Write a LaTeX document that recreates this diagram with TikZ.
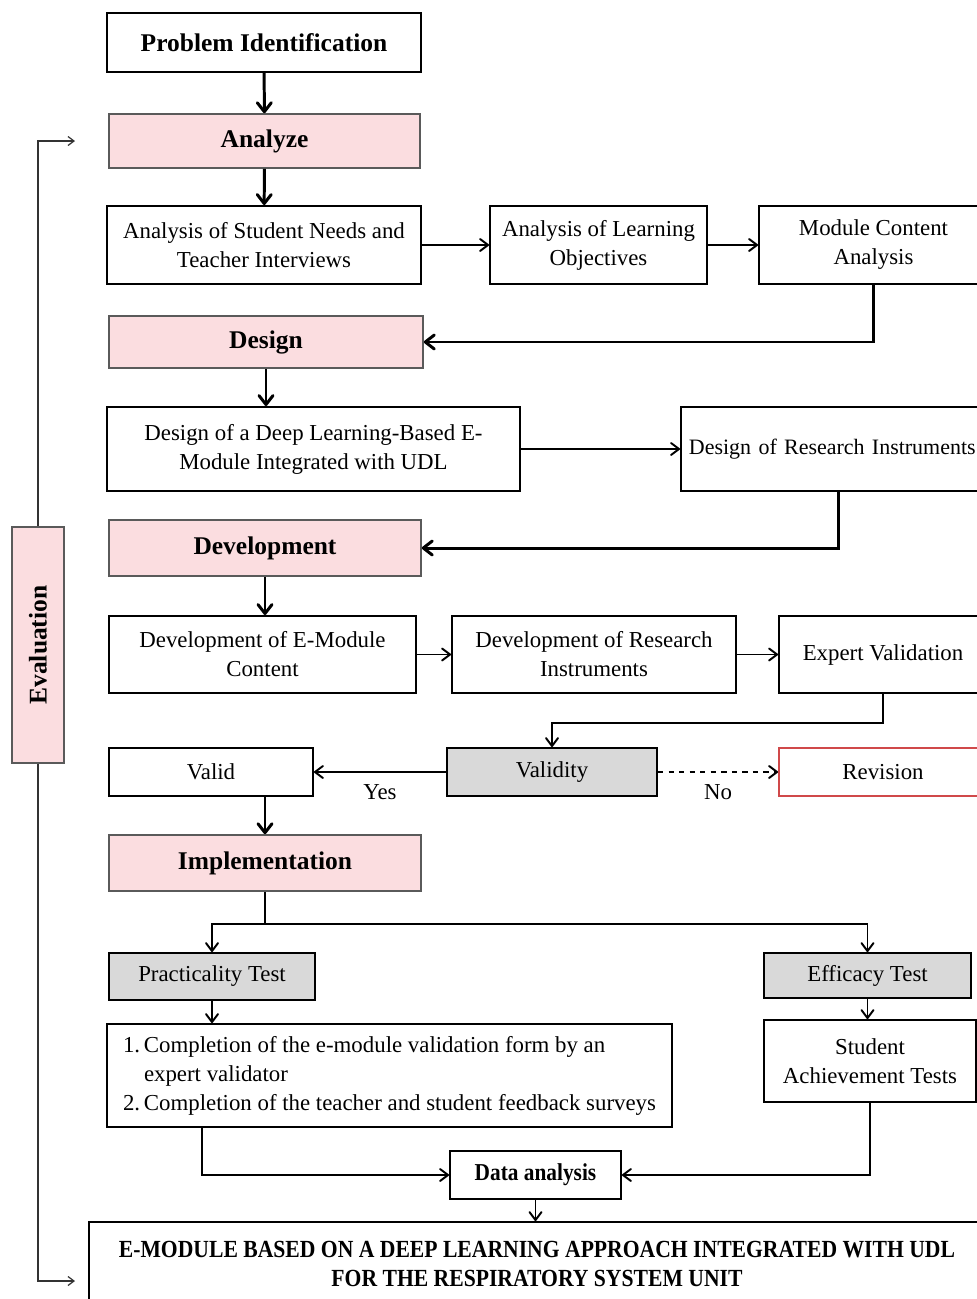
\documentclass[tikz,border=0pt]{standalone}
\usepackage{fontspec}
\setmainfont{Liberation Serif}
\newfontfamily\narrowserif[FakeStretch=0.88]{Liberation Serif}
\usepackage{tikz}
\usetikzlibrary{arrows.meta,positioning,calc}
\definecolor{phasefill}{HTML}{FBDDE0}
\definecolor{phaseline}{HTML}{5A5A5A}
\definecolor{testfill}{HTML}{D9D9D9}
\definecolor{revise}{HTML}{D0494A}

\begin{document}
\begin{tikzpicture}[
  x=0.2mm,y=-0.2mm,
  font=\fontsize{13}{16.5}\selectfont,
  box/.style={draw,line width=1.1pt,align=center,inner sep=2pt,
              font=\fontsize{13}{16.5}\selectfont},
  phase/.style={box,fill=phasefill,draw=phaseline,line width=0.9pt,
                font=\fontsize{14.5}{17}\selectfont\bfseries},
  test/.style={box,fill=testfill},
  wire/.style={line width=1.1pt},
  link/.style={wire,-{Straight Barb[length=1.6mm,width=2.4mm,round]}},
  arr/.style={-{Straight Barb[length=1.8mm,width=2.8mm,round]},line width=1.7pt},
  evalarr/.style={-{Straight Barb[length=1.2mm,width=1.8mm]},line width=0.7pt,draw=black!80}
]
\useasboundingbox (0,0) rectangle (977,1299);
\clip (0,0) rectangle (977,1299);

\node[box,font=\fontsize{14.5}{17}\selectfont\bfseries,minimum width=62.8mm,minimum height=11.8mm] (problem) at (264,42.5) {Problem Identification};
\node[phase,minimum width=62.2mm,minimum height=10.8mm] (analyze) at (264.5,141) {Analyze};
\node[box,minimum width=62.8mm,minimum height=15.6mm] (needs) at (264,245) {Analysis of Student Needs and\\Teacher Interviews};
\node[box,minimum width=43.4mm,minimum height=15.6mm] (objectives) at (598.5,245) {Analysis of Learning\\Objectives};
\node[box,minimum width=45.8mm,minimum height=15.6mm] (content) at (873.5,245) {Module Content\\Analysis};
\node[phase,minimum width=62.8mm,minimum height=10.4mm] (design) at (266,342) {Design};
\node[box,minimum width=82.6mm,minimum height=16.8mm] (emodule) at (313.5,449) {Design of a Deep Learning-Based E-\\Module Integrated with UDL};
\node[box,font=\fontsize{12.5}{16}\selectfont,align=left,text width=60mm,inner xsep=1.6mm,minimum height=16.8mm,anchor=west] (instruments) at (680,449) {Design of Research Instruments};
\node[phase,minimum width=62.4mm,minimum height=11.2mm] (development) at (265,548) {Development};
\node[box,minimum width=61.4mm,minimum height=15.4mm] (devcontent) at (262.5,654.5) {Development of E-Module\\Content};
\node[box,minimum width=56.8mm,minimum height=15.4mm] (devinstr) at (594,654.5) {Development of Research\\Instruments};
\node[box,minimum width=41.6mm,minimum height=15.4mm] (expert) at (883,654.5) {Expert Validation};
\node[test,minimum width=42mm,minimum height=9.6mm] (validity) at (552,772) {Validity};
\node[box,draw=revise,minimum width=41.6mm,minimum height=9.6mm] (revision) at (883,772) {Revision};
\node[box,minimum width=40.8mm,minimum height=9.6mm] (valid) at (211,772) {Valid};
\node[phase,minimum width=62.4mm,minimum height=11.2mm] (implementation) at (265,863) {Implementation};
\node[test,minimum width=41.2mm,minimum height=9.4mm] (practicality) at (212,976.5) {Practicality Test};
\node[test,minimum width=41.4mm,minimum height=9mm] (efficacy) at (867.5,975.5) {Efficacy Test};
\node[box,minimum width=113mm,minimum height=20.6mm] (steps) at (389.5,1075.5) {\begin{tabular}{@{}r@{\,}l@{}}
  1.&Completion of the e-module validation form by an\\
    &expert validator\\
  2.&Completion of the teacher and student feedback surveys
\end{tabular}};
\node[box,minimum width=42.4mm,minimum height=16.4mm] (achievement) at (870,1061) {Student\\Achievement Tests};
\node[box,font=\narrowserif\fontsize{13.8}{15}\selectfont\bfseries,minimum width=34.2mm,minimum height=9.6mm] (analysis) at (535.5,1175) {Data analysis};
\node[box,font=\narrowserif\fontsize{14}{16.5}\selectfont\bfseries,minimum width=179.2mm,minimum height=16.8mm] (result) at (537,1264) {E-MODULE BASED ON A DEEP LEARNING APPROACH INTEGRATED WITH UDL\\FOR THE RESPIRATORY SYSTEM UNIT};
\node[phase,rotate=90,minimum width=47.2mm,minimum height=10.4mm] (evaluation) at (38,645) {Evaluation};

% evaluation loop
\coordinate (evaltop) at (75,141);
\coordinate (evalbot) at (75,1281);
\draw[evalarr] (evaluation.east) |- (evaltop);
\draw[evalarr] (evaluation.west) |- (evalbot);

% analyze
\draw[arr] (problem) -- (analyze);
\draw[arr] (analyze) -- (needs);
\draw[link] (needs) -- (objectives);
\draw[link] (objectives) -- (content);
\draw[arr] (content.south) |- (design.east);
% design
\draw[arr] (design.south) -- (design.south |- emodule.north);
\draw[link] (emodule) -- (instruments);
\draw[arr] (instruments.south) |- (development.east);
% development
\draw[arr] (development.south) -- (development.south |- devcontent.north);
\draw[link] (devcontent) -- (devinstr);
\draw[link] (devinstr) -- (expert);
\draw[link] (expert.south) -- ++(0,29) -| (validity.north);
\draw[link] (validity) -- node[below,yshift=-3pt] {Yes} (valid);
\draw[link,dashed] (validity) -- node[below,yshift=-3pt] {No} (revision);
\draw[arr] (valid.south -| implementation.north) -- (implementation.north);
% implementation
\draw[wire] (implementation.south) -- ++(0,32) coordinate (split);
\draw[link] (split) -| (practicality.north);
\draw[link] (split) -| (efficacy.north);
\draw[link] (practicality.south) -- (practicality.south |- steps.north);
\draw[link] (efficacy.south) -- (efficacy.south |- achievement.north);
\draw[link] ([xshift=19.2mm]steps.south west) |- (analysis.west);
\draw[link] (achievement.south) |- (analysis.east);
\draw[link] (analysis.south) -- (analysis.south |- result.north);
\end{tikzpicture}
\end{document}
